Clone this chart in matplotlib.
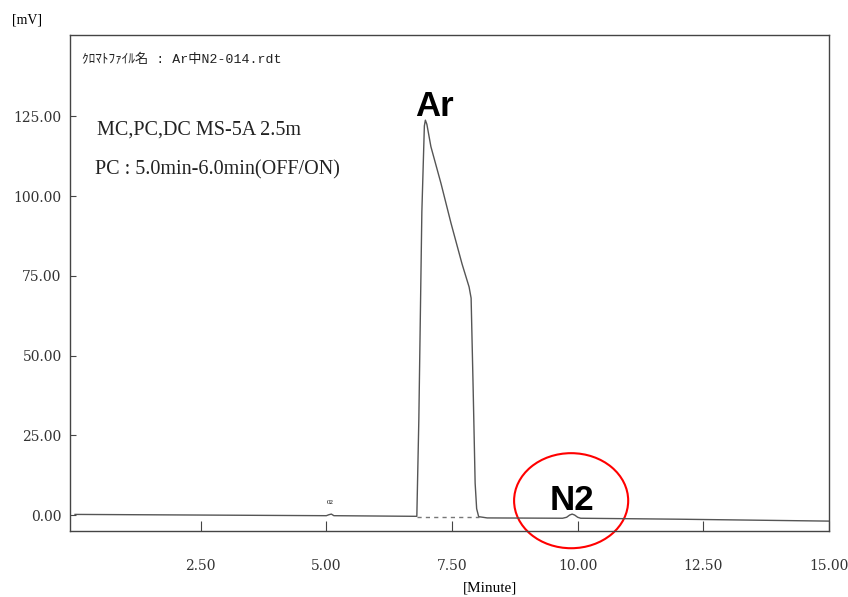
import matplotlib.pyplot as plt
from matplotlib.patches import Ellipse

# 読み取った値 (分, mV)
time = [0.0, 2.5, 5.0, 5.05, 5.1, 5.15, 6.80, 6.84, 6.90, 6.95, 6.97, 7.00, 7.08,
        7.28, 7.48, 7.70, 7.84, 7.88, 7.92, 7.96, 7.99, 8.03, 8.2, 9.7, 9.78,
        9.84, 9.89, 9.94, 10.0, 10.06, 12.0, 15.0]
signal = [0.2, 0.0, -0.2, 0.1, 0.3, -0.2, -0.4, 30.0, 95.0, 122.0, 123.8, 122.5, 115.5,
          104.0, 91.5, 78.7, 71.5, 68.0, 40.0, 10.0, 2.0, -0.5, -0.9, -1.0, -0.7,
          0.0, 0.3, 0.0, -0.7, -1.0, -1.3, -1.9]
ar_start, ar_end = 6.80, 8.03
xticks = [2.5, 5.0, 7.5, 10.0, 12.5, 15.0]
yticks = [0, 25, 50, 75, 100, 125]

serif = ['Liberation Serif', 'Noto Sans CJK JP']
tickfont = ['DejaVu Serif']
mono = ['Liberation Mono', 'Noto Sans CJK JP']
gray = '#555555'

fig = plt.figure(figsize=(8.48, 5.97), dpi=100)
ax = fig.add_axes([70 / 848, 1 - 531 / 597, (829 - 70) / 848, (531 - 35) / 597])

# クロマトグラム
ax.plot(time, signal, color=gray, lw=1)
ax.plot([ar_start, ar_end], [-0.6, -0.6], color='#777777', lw=1, ls=(0, (3, 3)))

ax.set_xlim(-0.1, 15.0)
ax.set_ylim(-5.0, 150.5)
ax.set_xticks(xticks)
ax.set_xticklabels([f'{v:.2f}' for v in xticks], family=tickfont, fontsize=10,
                   color='#333333')
ax.set_yticks(yticks)
ax.set_yticklabels([f'{v:.2f}' for v in yticks], family=tickfont, fontsize=10,
                   color='#333333')
ax.tick_params(axis='x', direction='in', length=7, pad=20, color='#444444')
ax.tick_params(axis='y', direction='in', length=4, pad=6, color='#444444')
for s in ax.spines.values():
    s.set_color('#444444')
    s.set_linewidth(1)

# テキスト
ax.text(0.14, 142.7, 'ｸﾛﾏﾄﾌｧｲﾙ名 : Ar中N2-014.rdt', family=mono, fontsize=9.5,
        va='center', ha='left', color='#222222')
ax.text(0.44, 120.7, 'MC,PC,DC MS-5A 2.5m', family=serif, fontsize=14.5,
        va='center', ha='left', color='#222222')
ax.text(0.40, 108.3, 'PC : 5.0min-6.0min(OFF/ON)', family=serif, fontsize=14.5,
        va='center', ha='left', color='#222222')
ax.text(5.07, 3.8, '02', family=serif, fontsize=5, ha='center', va='center')

ax.text(7.15, 125, 'Ar', family='Liberation Sans', weight='bold', fontsize=25,
        ha='center', va='baseline')
ax.text(9.88, 1.5, 'N2', family='Liberation Sans', weight='bold', fontsize=25,
        ha='center', va='baseline')
ax.add_patch(Ellipse((9.87, 4.5), 2.27, 29.8, fill=False, edgecolor='red',
                     lw=1.5, clip_on=False))

fig.text(27 / 848, 1 - 20 / 597, '[mV]', family=serif, fontsize=10,
         ha='center', va='center')
fig.text(490 / 848, 1 - 588 / 597, '[Minute]', family=serif, fontsize=11,
         ha='center', va='center')

fig.savefig('out.png', dpi=100)
